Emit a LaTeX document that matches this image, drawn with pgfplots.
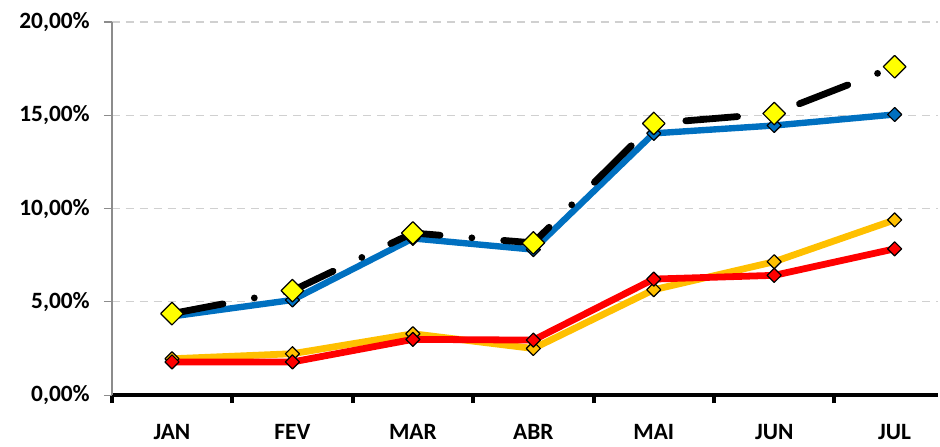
\documentclass[border=0pt]{standalone}
\usepackage{pgfplots}
\pgfplotsset{compat=1.18}
\usepackage{fontspec}
\setmainfont{Carlito}

\definecolor{serBlue}{HTML}{0070C0}
\definecolor{serOrange}{HTML}{FFC000}
\definecolor{serRed}{HTML}{FF0000}
\definecolor{mkYellow}{HTML}{FFFF00}
\definecolor{axGray}{HTML}{8C8C8C}
\definecolor{gridGray}{HTML}{D0D0D0}

\begin{document}
\begin{tikzpicture}
\begin{axis}[
    scale only axis,
    width=414pt, height=187pt,
    xmin=-0.5, xmax=6.36,
    ymin=0, ymax=20,
    axis lines*=left,
    clip=false,
    tick align=outside,
    major tick length=4pt,
    minor tick length=4pt,
    xtick={0,1,2,3,4,5,6},
    xticklabels={JAN,FEV,MAR,ABR,MAI,JUN,JUL},
    minor xtick={-0.5,0.5,1.5,2.5,3.5,4.5,5.5},
    x tick style={draw=none},
    minor x tick style={draw=black, line width=2pt},
    x axis line style={black, line width=2pt},
    y axis line style={axGray, line width=1pt},
    ytick={0,5,10,15,20},
    yticklabels={{0,00\%},{5,00\%},{10,00\%},{15,00\%},{20,00\%}},
    y tick style={axGray, line width=0.6pt},
    ymajorgrids,
    grid style={gridGray, line width=0.6pt, dash pattern=on 4pt off 3pt},
    tick label style={font=\fontsize{11.7}{14}\selectfont\bfseries},
    xticklabel style={yshift=-7pt},
    yticklabel style={xshift=-3.5pt},
    every axis plot/.append style={line join=round, line cap=round},
]
% orange series
\addplot[serOrange, line width=3.4pt,
    mark=square*, mark size=2.5pt,
    mark options={rotate=45, fill=serOrange, draw=black, line width=0.6pt, solid}]
    coordinates {(0,1.95) (1,2.22) (2,3.29) (3,2.5) (4,5.65) (5,7.15) (6,9.39)};
% red series
\addplot[serRed, line width=3.4pt,
    mark=square*, mark size=2.5pt,
    mark options={rotate=45, fill=serRed, draw=black, line width=0.6pt, solid}]
    coordinates {(0,1.78) (1,1.78) (2,2.99) (3,2.95) (4,6.22) (5,6.42) (6,7.84)};
% blue series
\addplot[serBlue, line width=3.2pt,
    mark=square*, mark size=2.5pt,
    mark options={rotate=45, fill=serBlue, draw=black, line width=0.6pt, solid}]
    coordinates {(0,4.22) (1,5.1) (2,8.4) (3,7.8) (4,14.03) (5,14.45) (6,15.04)};
% black dash-dot series with yellow markers
\addplot[black, line width=3.4pt, dash pattern=on 26pt off 16pt on 0pt off 16pt,
    mark=square*, mark size=4pt,
    mark options={rotate=45, fill=mkYellow, draw=black, line width=0.6pt, solid}]
    coordinates {(0,4.37) (1,5.6) (2,8.69) (3,8.16) (4,14.56) (5,15.09) (6,17.6)};
\end{axis}
% white margin above and left of the tick labels, as in the reference
\path (current axis.north west) ++(-56pt,11pt);
\end{tikzpicture}
\end{document}
